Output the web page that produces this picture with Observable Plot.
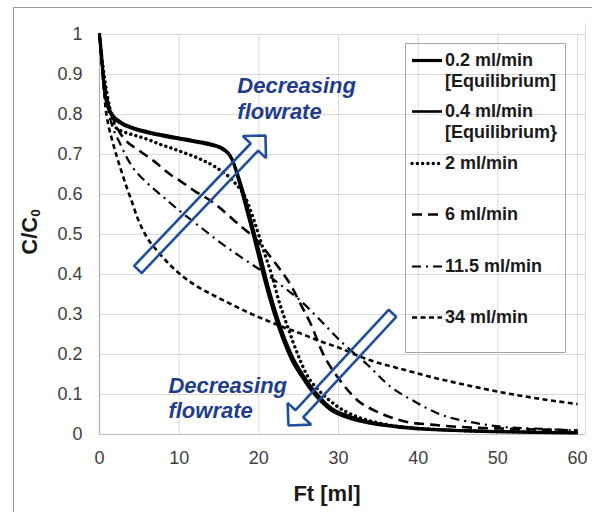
<!DOCTYPE html>
<html>
<head>
<meta charset="utf-8">
<script src="https://cdn.jsdelivr.net/npm/d3@7"></script>
<script src="https://cdn.jsdelivr.net/npm/@observablehq/plot@0.6"></script>
<style>
  html, body { margin: 0; padding: 0; background: #fff; }
  #wrap { position: relative; width: 592px; height: 512px; overflow: hidden; font-family: "Liberation Sans", Arial, sans-serif; }
  #frame { position: absolute; left: 13px; top: 7px; width: 590px; height: 520px; border-top: 1px solid #9a9a9a; border-left: 1px solid #9a9a9a; pointer-events: none; }
  .axtitle { position: absolute; font-weight: bold; font-size: 22px; line-height: 22px; color: #1a1a1a; white-space: nowrap; }
  .axtitle sub { font-size: 0.62em; vertical-align: -0.25em; line-height: 0; }
  #legend { position: absolute; left: 405px; top: 43px; width: 159px; height: 308px; border: 1px solid #a6a6a6; background: transparent; }
  .lrow { position: absolute; left: 0; width: 159px; }
  .lrow svg { position: absolute; left: 4px; }
  .lrow .ltxt { position: absolute; left: 39px; font-weight: bold; font-size: 18px; line-height: 21px; color: #1a1a1a; white-space: nowrap; }
</style>
</head>
<body>
<div id="wrap"></div>
<script>
// ---------------- data ----------------
const xTicks = [0, 10, 20, 30, 40, 50, 60];
const xTickLabels = ["0", "10", "20", "30", "40", "50", "60"];
const yTicks = [0, 0.1, 0.2, 0.3, 0.4, 0.5, 0.6, 0.7, 0.8, 0.9, 1];
const yTickLabels = ["0", "0.1", "0.2", "0.3", "0.4", "0.5", "0.6", "0.7", "0.8", "0.9", "1"];

const seriesNames = ["0.2 ml/min [Equilibrium]", "0.4 ml/min [Equilibrium}", "2 ml/min", "6 ml/min", "11.5 ml/min", "34 ml/min"];
const legendLabels = [["0.2 ml/min", "[Equilibrium]"], ["0.4 ml/min", "[Equilibrium}"], ["2 ml/min"], ["6 ml/min"], ["11.5 ml/min"], ["34 ml/min"]];

const f02x = [0, 0.15, 0.33, 0.5, 0.96, 1.6, 2.6, 4.5, 6, 7.9, 9.5, 11.2, 12.8, 14.2, 15.3, 16.1, 16.7, 17.2, 17.7, 18.5, 19.3, 20.3, 21.3, 22.3, 23.3, 24.3, 25.3, 26.3, 27.7, 29, 31.5, 34, 37.8, 42, 46, 50, 55, 60];
const f02y = [1, 0.97, 0.93, 0.885, 0.827, 0.80, 0.782, 0.765, 0.757, 0.749, 0.743, 0.737, 0.731, 0.725, 0.717, 0.705, 0.685, 0.655, 0.62, 0.56, 0.50, 0.42, 0.345, 0.28, 0.225, 0.18, 0.148, 0.118, 0.085, 0.062, 0.04, 0.028, 0.018, 0.012, 0.009, 0.007, 0.005, 0.004];

const f04x = [0, 0.15, 0.33, 0.5, 0.96, 1.6, 2.6, 4.5, 6, 7.9, 9.5, 11.2, 12.8, 14.2, 15.3, 16.1, 16.7, 17.2, 17.7, 18.5, 19.3, 20.3, 21.3, 22.3, 23.3, 24.3, 25.3, 26.3, 27.7, 29, 31.5, 34, 37.8, 42, 46, 50, 55, 60];
const f04y = [1, 0.965, 0.925, 0.88, 0.822, 0.795, 0.778, 0.762, 0.754, 0.746, 0.740, 0.734, 0.728, 0.722, 0.714, 0.703, 0.686, 0.66, 0.63, 0.575, 0.515, 0.44, 0.362, 0.295, 0.238, 0.192, 0.157, 0.127, 0.093, 0.068, 0.045, 0.031, 0.02, 0.013, 0.01, 0.008, 0.006, 0.005];

const f2x = [0, 0.2, 0.5, 1, 1.5, 2, 3, 4.4, 6, 7.4, 9.3, 10.4, 12, 13, 14.3, 15.2, 16.1, 16.9, 17.6, 18.3, 19.4, 20.6, 21.7, 22.5, 23.6, 25.2, 26, 27.4, 28.6, 30, 32, 35, 38, 42, 46, 50, 55, 60];
const f2y = [1, 0.96, 0.91, 0.845, 0.8, 0.768, 0.757, 0.748, 0.738, 0.727, 0.714, 0.706, 0.694, 0.685, 0.672, 0.66, 0.647, 0.631, 0.615, 0.593, 0.535, 0.46, 0.393, 0.335, 0.27, 0.185, 0.15, 0.113, 0.09, 0.068, 0.047, 0.029, 0.019, 0.013, 0.009, 0.007, 0.006, 0.005];

const f6x = [0, 0.3, 0.7, 1.2, 1.8, 2.4, 3.5, 4.6, 5.8, 6.8, 8, 9.1, 10.2, 12, 13.9, 15.5, 16.9, 18.2, 19.4, 20.5, 21.5, 22.4, 23.3, 24.2, 25, 26.5, 28.1, 29.9, 31.2, 32.4, 33.8, 35.3, 38.2, 42, 46, 52, 60];
const f6y = [1, 0.93, 0.87, 0.82, 0.785, 0.76, 0.731, 0.715, 0.698, 0.684, 0.664, 0.647, 0.633, 0.608, 0.585, 0.56, 0.535, 0.513, 0.493, 0.468, 0.443, 0.42, 0.395, 0.367, 0.335, 0.277, 0.2, 0.143, 0.11, 0.085, 0.067, 0.053, 0.033, 0.024, 0.018, 0.014, 0.01];

const f115x = [0, 0.3, 0.7, 1.2, 1.8, 2.4, 3.3, 4.3, 5.5, 6.8, 8, 9.1, 10.3, 11.6, 12.7, 14.3, 16, 17.5, 19, 21, 23, 25.2, 27.5, 30.6, 33.6, 36.5, 39.5, 42.8, 46.6, 50.6, 54.5, 60];
const f115y = [1, 0.92, 0.855, 0.8, 0.76, 0.735, 0.697, 0.664, 0.638, 0.614, 0.594, 0.575, 0.555, 0.535, 0.518, 0.493, 0.468, 0.447, 0.427, 0.4, 0.37, 0.335, 0.29, 0.227, 0.175, 0.12, 0.083, 0.05, 0.031, 0.019, 0.015, 0.01];

const f34x = [0, 0.2, 0.45, 0.75, 1.1, 1.6, 2.2, 2.85, 3.5, 4.1, 4.7, 5.35, 6.2, 7.2, 8.8, 10.6, 12.6, 14.8, 17, 19, 21, 23.1, 25.2, 27.3, 29.9, 33.6, 38, 42, 46.4, 50.3, 55, 60];
const f34y = [1, 0.95, 0.89, 0.818, 0.775, 0.735, 0.693, 0.652, 0.613, 0.58, 0.545, 0.515, 0.485, 0.46, 0.425, 0.393, 0.366, 0.343, 0.321, 0.302, 0.285, 0.268, 0.253, 0.236, 0.218, 0.188, 0.163, 0.142, 0.122, 0.106, 0.09, 0.076];

// annotations (data coordinates)
const noteText = ["Decreasing", "flowrate", "Decreasing", "flowrate"];
const noteX = [17.3, 17.3, 8.65, 8.65];
const noteY = [0.8725, 0.8075, 0.1225, 0.06];
// arrows: tail -> tip (data coordinates)
const arrowX1 = [4.82, 36.77];
const arrowY1 = [0.4125, 0.303];
const arrowX2 = [20.83, 23.72];
const arrowY2 = [0.7475, 0.0225];

// ---------------- layout / style ----------------
const W = 592, H = 512;
const mL = 99, mR = 7, mT = 34, mB = 78;
const xDomain = [0, 61], yDomain = [0, 1];
const kx = (W - mL - mR) / (xDomain[1] - xDomain[0]);
const ky = (H - mT - mB) / (yDomain[1] - yDomain[0]);

const styles = [
  {strokeWidth: 3.2, dash: null, cap: "butt"},
  {strokeWidth: 2.6, dash: null, cap: "butt"},
  {strokeWidth: 3.4, dash: "0.1 5.2", cap: "round"},
  {strokeWidth: 2.6, dash: "10 6", cap: "butt"},
  {strokeWidth: 2.2, dash: "9 5 2 5", cap: "butt"},
  {strokeWidth: 2.6, dash: "5 3.5", cap: "butt"}
];

const series = [[f02x, f02y], [f04x, f04y], [f2x, f2y], [f6x, f6y], [f115x, f115y], [f34x, f34y]]
  .map(([xs, ys], k) => xs.map((x, i) => ({x, y: ys[i], s: seriesNames[k]})));

function arrowPoly(i) {
  const w = 5.2, h = 16, L = 16;
  const tx = arrowX1[i] * kx, ty = -arrowY1[i] * ky;
  const px = arrowX2[i] * kx, py = -arrowY2[i] * ky;
  const dx = px - tx, dy = py - ty, len = Math.hypot(dx, dy);
  const ux = dx / len, uy = dy / len, nx = -uy, ny = ux;
  const bx = px - ux * L, by = py - uy * L;
  const pts = [
    [tx + nx * w, ty + ny * w], [bx + nx * w, by + ny * w], [bx + nx * h, by + ny * h],
    [px, py],
    [bx - nx * h, by - ny * h], [bx - nx * w, by - ny * w], [tx - nx * w, ty - ny * w]
  ];
  return pts.map(([X, Y]) => ({x: X / kx, y: -Y / ky}));
}

const notes = noteText.map((t, i) => ({t, x: noteX[i], y: noteY[i]}));

const gridColor = "#d9d9d9";
const blueText = "#1f3d8c";
const blueArrow = "#1f4f9c";

const marks = [
  Plot.ruleY(yTicks.filter(d => d > 0), {x1: 0, x2: 61, stroke: gridColor, strokeWidth: 1}),
  Plot.ruleX(xTicks.filter(d => d > 0), {y1: 0, y2: 1, stroke: gridColor, strokeWidth: 1}),
  Plot.ruleX([61], {y1: 0, y2: 1.0275, stroke: gridColor, strokeWidth: 1}),
  Plot.ruleY([0], {x1: 0, x2: 61, stroke: "#bfbfbf", strokeWidth: 1.2}),
  Plot.ruleX([0], {y1: 0, y2: 1, stroke: "#b0b0b0", strokeWidth: 1.2}),
];
series.forEach((data, k) => {
  const st = styles[k];
  const opts = {x: "x", y: "y", curve: "monotone-x", stroke: "#000", strokeWidth: st.strokeWidth, strokeLinecap: st.cap, strokeLinejoin: "round"};
  if (st.dash) opts.strokeDasharray = st.dash;
  marks.push(Plot.line(data, opts));
});
[0, 1].forEach(i => {
  marks.push(Plot.line(arrowPoly(i), {x: "x", y: "y", curve: "linear-closed", stroke: blueArrow, strokeWidth: 2.6, strokeLinejoin: "miter", fill: "none"}));
});
marks.push(Plot.text(notes, {x: "x", y: "y", text: "t", textAnchor: "start", fill: blueText, fontSize: 22, fontWeight: "bold", fontStyle: "italic", fontFamily: "Liberation Sans, Arial, sans-serif"}));

const chart = Plot.plot({
  width: W,
  height: H,
  marginLeft: mL, marginRight: mR, marginTop: mT, marginBottom: mB,
  style: {fontFamily: "Liberation Sans, Arial, sans-serif", fontSize: "18px", color: "#404040", background: "transparent", overflow: "visible"},
  x: {domain: xDomain, ticks: xTicks, tickFormat: d => xTickLabels[xTicks.indexOf(d)], tickSize: 0, tickPadding: 17, label: null},
  y: {domain: yDomain, ticks: yTicks, tickFormat: d => yTickLabels[yTicks.indexOf(d)], tickSize: 0, tickPadding: 17, label: null},
  marks
});

const wrap = document.getElementById("wrap");
wrap.appendChild(chart);

// outer frame
const frame = document.createElement("div");
frame.id = "frame";
wrap.appendChild(frame);

// axis titles
const xt = document.createElement("div");
xt.className = "axtitle";
xt.textContent = "Ft [ml]";
xt.style.left = "327px";
xt.style.top = "483px";
xt.style.transform = "translateX(-50%)";
wrap.appendChild(xt);

const yt = document.createElement("div");
yt.className = "axtitle";
yt.innerHTML = "C/C<sub>0</sub>";
yt.style.left = "30px";
yt.style.top = "232px";
yt.style.transform = "translate(-50%, -50%) rotate(-90deg)";
wrap.appendChild(yt);

// legend
const legend = document.createElement("div");
legend.id = "legend";
wrap.appendChild(legend);
const rowStep = 51.4;
legendLabels.forEach((lines, k) => {
  const st = styles[k];
  const row = document.createElement("div");
  row.className = "lrow";
  row.style.top = (6 + k * rowStep) + "px";
  const svgNS = "http://www.w3.org/2000/svg";
  const svg = document.createElementNS(svgNS, "svg");
  svg.setAttribute("width", "34");
  svg.setAttribute("height", "21");
  const ln = document.createElementNS(svgNS, "line");
  ln.setAttribute("x1", "2"); ln.setAttribute("x2", "32");
  ln.setAttribute("y1", "10.5"); ln.setAttribute("y2", "10.5");
  ln.setAttribute("stroke", "#000");
  ln.setAttribute("stroke-width", st.strokeWidth);
  ln.setAttribute("stroke-linecap", st.cap);
  if (st.dash) ln.setAttribute("stroke-dasharray", st.dash);
  svg.appendChild(ln);
  row.appendChild(svg);
  const txt = document.createElement("div");
  txt.className = "ltxt";
  txt.innerHTML = lines.join("<br>");
  row.appendChild(txt);
  legend.appendChild(row);
});
</script>
</body>
</html>
